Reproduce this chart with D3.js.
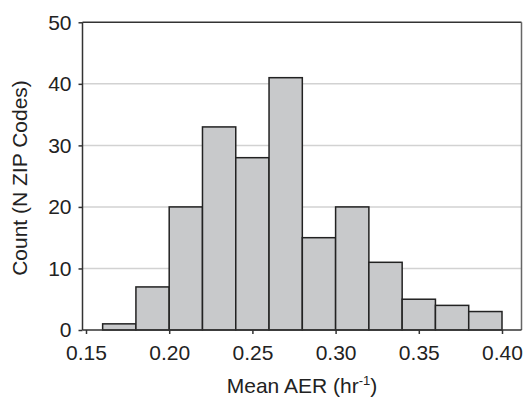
<!DOCTYPE html>
<html>
<head>
<meta charset="utf-8">
<script src="https://cdn.jsdelivr.net/npm/d3@7"></script>
<style>
  body { margin: 0; background: #fff; }
  svg { display: block; }
  text { font-family: "Liberation Sans", Arial, sans-serif; fill: #222; }
</style>
</head>
<body>
<svg class="chart"></svg>
<script>
const WIDTH = 523;
const HEIGHT = 399;
const PLOT = { left: 82.5, right: 521.5, top: 22.3, bottom: 330 };
const FONT = 21;

// histogram bins (lower edge, upper edge) and counts
const binLow  = [0.16, 0.18, 0.20, 0.22, 0.24, 0.26, 0.28, 0.30, 0.32, 0.34, 0.36, 0.38];
const binHigh = [0.18, 0.20, 0.22, 0.24, 0.26, 0.28, 0.30, 0.32, 0.34, 0.36, 0.38, 0.40];
const counts  = [1, 7, 20, 33, 28, 41, 15, 20, 11, 5, 4, 3];

const xTicks = [0.15, 0.20, 0.25, 0.30, 0.35, 0.40];
const yTicks = [0, 10, 20, 30, 40, 50];
const gridTicks = [10, 20, 30, 40];

const bins = binLow.map((lo, i) => ({ lo: lo, hi: binHigh[i], n: counts[i] }));

const svg = d3.select(".chart").attr("width", WIDTH).attr("height", HEIGHT);

const x = d3.scaleLinear().domain([0.15, 0.40]).range([86, 502]);
const y = d3.scaleLinear().domain([0, 50]).range([PLOT.bottom, PLOT.top]);

// gridlines
svg.append("g").selectAll("line").data(gridTicks).enter().append("line")
   .attr("x1", PLOT.left).attr("x2", PLOT.right)
   .attr("y1", d => y(d)).attr("y2", d => y(d))
   .attr("stroke", "#d2d2d2").attr("stroke-width", 1.5);

// frame: top and right
svg.append("line")
   .attr("x1", PLOT.left).attr("x2", PLOT.right)
   .attr("y1", PLOT.top).attr("y2", PLOT.top)
   .attr("stroke", "#333").attr("stroke-width", 1.5);
svg.append("line")
   .attr("x1", PLOT.right).attr("x2", PLOT.right)
   .attr("y1", PLOT.top).attr("y2", PLOT.bottom)
   .attr("stroke", "#666").attr("stroke-width", 1.5);

// bars
svg.append("g").selectAll("rect").data(bins).enter().append("rect")
   .attr("x", d => x(d.lo))
   .attr("width", d => x(d.hi) - x(d.lo))
   .attr("y", d => y(d.n))
   .attr("height", d => y(0) - y(d.n))
   .attr("fill", "#c8c9cb")
   .attr("stroke", "#222")
   .attr("stroke-width", 1.5);

// y axis
const yAxis = svg.append("g")
   .attr("transform", `translate(${PLOT.left},0)`)
   .call(d3.axisLeft(y).tickValues(yTicks).tickSize(4).tickPadding(7).tickFormat(d3.format("d")));
yAxis.select(".domain").attr("stroke", "#333").attr("stroke-width", 1.5)
     .attr("d", `M0,${PLOT.top}V${PLOT.bottom}`);

// x axis
const xAxis = svg.append("g")
   .attr("transform", `translate(0,${PLOT.bottom})`)
   .call(d3.axisBottom(x).tickValues(xTicks).tickSize(4).tickPadding(11).tickFormat(d3.format(".2f")));
xAxis.select(".domain").attr("stroke", "#333").attr("stroke-width", 1.5)
     .attr("d", `M${PLOT.left},0H${PLOT.right}`);

svg.selectAll(".tick line").attr("stroke", "#333").attr("stroke-width", 1.5);
svg.selectAll(".tick text").attr("font-size", FONT).attr("fill", "#222")
   .attr("font-family", "'Liberation Sans', Arial, sans-serif");

// axis titles
const xTitle = svg.append("text")
   .attr("x", (PLOT.left + PLOT.right) / 2)
   .attr("y", 393)
   .attr("text-anchor", "middle")
   .attr("font-size", FONT);
xTitle.append("tspan").text("Mean AER (hr");
xTitle.append("tspan").attr("dy", -8).attr("font-size", 13).text("-1");
xTitle.append("tspan").attr("dy", 8).text(")");

svg.append("text")
   .attr("transform", `translate(27,178) rotate(-90)`)
   .attr("text-anchor", "middle")
   .attr("font-size", FONT)
   .text("Count (N ZIP Codes)");
</script>
</body>
</html>
